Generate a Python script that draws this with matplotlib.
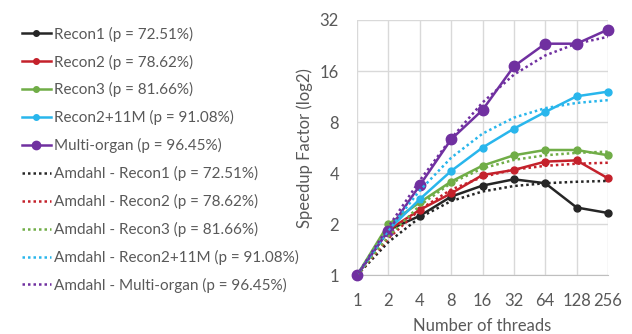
import numpy as np
import matplotlib.pyplot as plt
from matplotlib.ticker import FixedLocator, NullLocator

plt.rcParams['font.family'] = ['Lato', 'DejaVu Sans']

threads = ['1', '2', '4', '8', '16', '32', '64', '128', '256']

names = ['Recon1', 'Recon2', 'Recon3', 'Recon2+11M', 'Multi-organ']
p_pct = ['72.51', '78.62', '81.66', '91.08', '96.45']
colors = ['#262626', '#C4212B', '#70AD47', '#29B6EC', '#7030A0']

recon1 = [1, 1.85, 2.24, 2.91, 3.38, 3.68, 3.49, 2.51, 2.33]
recon2 = [1, 1.85, 2.43, 3.04, 3.90, 4.18, 4.68, 4.76, 3.73]
recon3 = [1, 2.00, 2.69, 3.57, 4.43, 5.10, 5.48, 5.48, 5.10]
recon2_11m = [1, 1.85, 2.81, 4.12, 5.66, 7.32, 9.18, 11.36, 12.1]
multi_organ = [1, 1.83, 3.39, 6.33, 9.43, 17.06, 23.2, 23.2, 28.1]

# Amdahl curves
amd_recon1 = [1, 1.57, 2.19, 2.74, 3.12, 3.36, 3.49, 3.56, 3.60]
amd_recon2 = [1, 1.65, 2.44, 3.20, 3.80, 4.20, 4.42, 4.55, 4.61]
amd_recon3 = [1, 1.69, 2.58, 3.50, 4.27, 4.79, 5.10, 5.27, 5.36]
amd_recon2_11m = [1, 1.84, 3.16, 4.93, 6.84, 8.50, 9.67, 10.38, 10.78]
amd_multi_organ = [1, 1.93, 3.62, 6.41, 10.44, 15.23, 19.78, 23.24, 25.47]

measured = [recon1, recon2, recon3, recon2_11m, multi_organ]
amdahl = [amd_recon1, amd_recon2, amd_recon3, amd_recon2_11m, amd_multi_organ]

fig = plt.figure(figsize=(6.32, 3.34), dpi=100)
ax = fig.add_axes([357 / 632, 1 - 275.3 / 334, (608 - 357) / 632, (275.3 - 20) / 334])

x = np.arange(len(threads))
handles = []
for i in range(5):
    ms = 7.5 if i == 4 else 5
    h, = ax.plot(x, measured[i], '-o', color=colors[i], lw=1.8, ms=ms,
                 label='%s (p = %s%%)' % (names[i], p_pct[i]), clip_on=False, zorder=3)
    handles.append(h)
for i in range(5):
    h, = ax.plot(x, amdahl[i], color=colors[i], lw=1.8, ls=(0, (1, 1.2)),
                 label='Amdahl - %s (p = %s%%)' % (names[i], p_pct[i]), zorder=4)
    handles.append(h)

ax.set_yscale('log', base=2)
ax.set_ylim(1, 32)
ax.set_xlim(0, 8)
ax.yaxis.set_major_locator(FixedLocator([1, 2, 4, 8, 16, 32]))
ax.yaxis.set_minor_locator(NullLocator())
ax.set_yticklabels(['1', '2', '4', '8', '16', '32'])
ax.set_xticks(x)
ax.set_xticklabels(threads)
ax.grid(True, color='#d9d9d9', lw=1)
ax.set_axisbelow(True)
for s in ['top', 'right', 'left']:
    ax.spines[s].set_visible(False)
ax.spines['bottom'].set_color('#bfbfbf')
ax.tick_params(length=0, labelsize=12, colors='#595959')
ax.tick_params(axis='x', pad=13)
ax.tick_params(axis='y', pad=13)
ax.set_xlabel('Number of threads', fontsize=12, color='#595959', labelpad=6)
ax.set_ylabel('Speedup Factor (log2)', fontsize=12, color='#595959', labelpad=5)

fig.legend(handles=handles, loc='upper left', bbox_to_anchor=(14 / 632, 1 - 19 / 334),
           frameon=False, fontsize=11, handlelength=1.9, handletextpad=0.2,
           labelspacing=0.84, borderpad=0, labelcolor='#595959', markerscale=0.8)

fig.savefig('out.png', dpi=100)
